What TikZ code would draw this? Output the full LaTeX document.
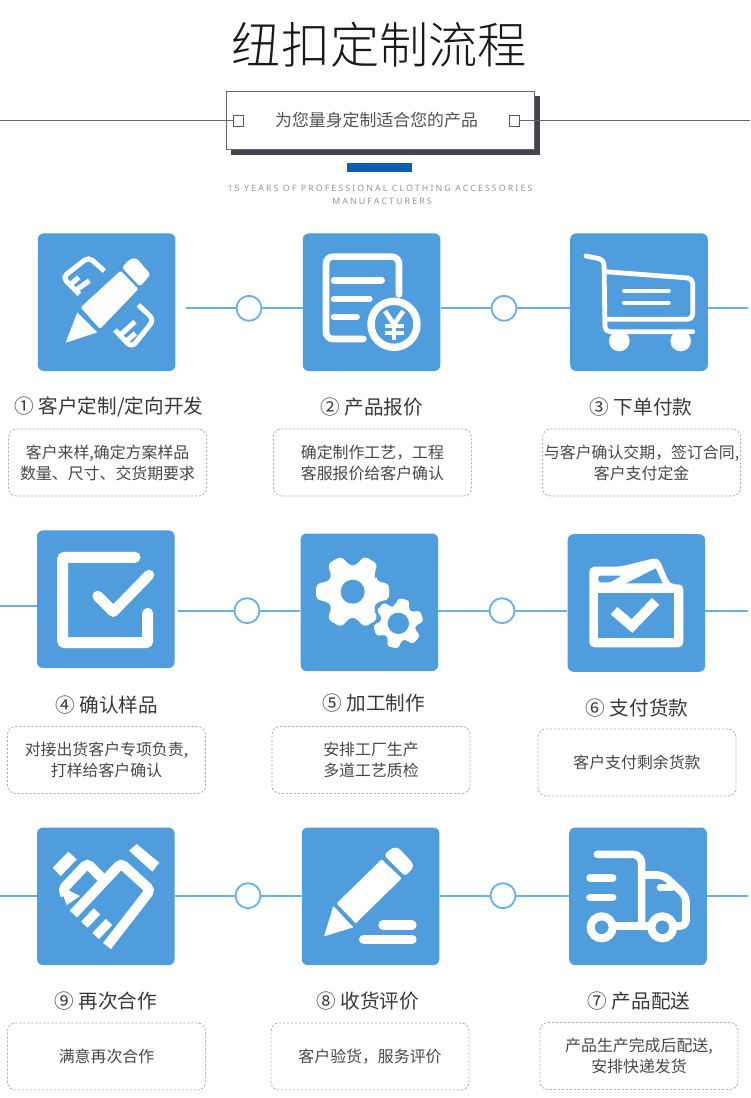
\documentclass[tikz,border=0pt]{standalone}
\usepackage{fontspec}
\setmainfont{Noto Sans CJK SC}
\newfontfamily\titlefont{Noto Sans CJK SC Light}
\newfontfamily\enfont[LetterSpace=24]{Noto Sans}
\definecolor{iconblue}{HTML}{4F9DDC}
\definecolor{linkblue}{HTML}{66B1EA}
\definecolor{shadowgrey}{HTML}{41454F}
\definecolor{barblue}{HTML}{0B5FAE}
\definecolor{dashgrey}{HTML}{ABABAB}
\tikzset{
  iconbox/.style={fill=iconblue,rounded corners=6pt,minimum size=137.6pt,inner sep=0pt,anchor=north west},
  hub/.style={circle,draw=linkblue,fill=white,line width=1.8pt,minimum size=25pt,inner sep=0pt},
  link/.style={draw=linkblue,line width=1.8pt},
  heading/.style={font=\fontsize{19.6}{24}\selectfont,text=black!78,inner sep=0pt},
  descbox/.style={draw=dashgrey,dashed,dash pattern=on 2.2pt off 1.8pt,line width=.8pt,rounded corners=8pt,minimum width=198pt,minimum height=67pt,inner sep=0pt,align=center,text=black!72,font=\fontsize{15.9}{21}\selectfont},
  wl/.style={draw=white,line width=#1,line cap=round,line join=round},
  wm/.style={draw=white,line width=#1,line cap=butt,line join=miter},
  smallsq/.style={draw=black!65,fill=white,line width=.8pt,minimum width=10pt,minimum height=11pt,inner sep=0pt},
  rule/.style={draw=black!60,line width=1.2pt}
}
\begin{document}
\begin{tikzpicture}[x=1pt,y=-1pt]
\useasboundingbox (0,0) rectangle (750,1098);
% header
\node[inner sep=0pt,text=black!90,font=\fontsize{49.2}{56}\titlefont] (title) at (379.5,45) {纽扣定制流程};
\coordinate (hl) at (0,120.7);
\coordinate (hr) at (750,120.7);
\node[fill=shadowgrey,minimum width=309.3pt,minimum height=59pt,inner sep=0pt] (hshadow) at (385.3,125.5) {};
\node[draw=black!60,fill=white,line width=.8pt,minimum width=308.4pt,minimum height=58.7pt,inner sep=0pt] (hbox) at (380.6,120.4) {};
\node[inner sep=0pt,text=black!68,font=\fontsize{16.9}{20}\selectfont] (htext) at (376.5,120) {为您量身定制适合您的产品};
\node[smallsq] (sl) at (238,120.7) {};
\node[smallsq] (sr) at (514.2,120.7) {};
\draw[rule] (hl) -- (sl);
\draw[rule] (sr) -- (hr);
\node[fill=barblue,minimum width=65.6pt,minimum height=8.6pt,inner sep=0pt] (bar) at (379.6,167.3) {};
\node[inner sep=0pt,text=black!42,font=\fontsize{8.8}{10}\enfont] (en1) at (380,188) {15 YEARS OF PROFESSIONAL CLOTHING ACCESSORIES};
\node[inner sep=0pt,text=black!42,font=\fontsize{8.8}{10}\enfont] (en2) at (382,201) {MANUFACTURERS};
% icon tiles
\node[iconbox] (i1) at (37.6,233.2) {};
\node[iconbox] (i2) at (302.6,233.2) {};
\node[iconbox] (i3) at (570,233.2) {};
\node[iconbox] (i4) at (36.8,530.2) {};
\node[iconbox] (i5) at (300.4,533.3) {};
\node[iconbox] (i6) at (567.4,534) {};
\node[iconbox] (i9) at (36.8,827.3) {};
\node[iconbox] (i8) at (301.6,827.3) {};
\node[iconbox] (i7) at (569,827.3) {};
% hubs
\node[hub] (c1) at (249,308.3) {};
\node[hub] (c2) at (504,308.3) {};
\node[hub] (c3) at (247,610.7) {};
\node[hub] (c4) at (502,610.7) {};
\node[hub] (c5) at (248,895.7) {};
\node[hub] (c6) at (503,895.7) {};
\coordinate (s1) at (186,308.3);
\coordinate (e1) at (748,308.3);
\coordinate (s2) at (0,605.7);
\coordinate (s2b) at (178,610.7);
\coordinate (e2) at (748,610.7);
\coordinate (s3) at (0,895.7);
\coordinate (e3) at (748,895.7);
\draw[link] (s1) -- (c1);
\draw[link] (c1) -- (i2.west |- c1);
\draw[link] (i2.east |- c2) -- (c2);
\draw[link] (c2) -- (i3.west |- c2);
\draw[link] (i3.east |- e1) -- (e1);
\draw[link] (s2) -- (i4.west |- s2);
\draw[link] (s2b) -- (c3);
\draw[link] (c3) -- (i5.west |- c3);
\draw[link] (i5.east |- c4) -- (c4);
\draw[link] (c4) -- (i6.west |- c4);
\draw[link] (i6.east |- e2) -- (e2);
\draw[link] (s3) -- (i9.west |- s3);
\draw[link] (i9.east |- c5) -- (c5);
\draw[link] (c5) -- (i8.west |- c5);
\draw[link] (i8.east |- c6) -- (c6);
\draw[link] (c6) -- (i7.west |- c6);
\draw[link] (i7.east |- e3) -- (e3);
% icon 1: pencil and rulers
\begin{scope}[shift={(20,225)},scale=1/3]
\fill[white,rounded corners=1.5pt] (182,247) -- (302,137) -- (355,192) -- (240,312) -- cycle;
\fill[white,rounded corners=3pt] (305,127) -- (333,100) -- (350,100) -- (392,148) -- (360,185) -- cycle;
\fill[white,rounded corners=.6pt] (172,262) -- (232,322) -- (137,353) -- cycle;
\draw[wm=5pt,rounded corners=5pt] (253,138) -- (206,96) -- (128,157) -- (178,208);
\draw[wm=5pt] (150,180) -- (176,157);
\draw[wm=5pt] (166,197) -- (208,167);
\draw[wm=5pt,rounded corners=6pt] (355,240) -- (402,284) -- (335,368) -- (285,315);
\draw[wm=5pt] (300,331) -- (345,290);
\draw[wm=5pt] (318,349) -- (346,325);
\end{scope}
% icon 2: price sheet
\begin{scope}[shift={(290,225)},scale=1/3]
\draw[wl=6.6pt,rounded corners=7pt] (220,342) -- (108,342) -- (108,95) -- (327,95) -- (327,208);
\draw[wl=6.6pt] (132,166) -- (275,166);
\draw[wl=6.6pt] (132,222) -- (238,222);
\draw[wl=6.6pt] (132,276) -- (200,276);
\draw[fill=iconblue,draw=white,line width=7.4pt] (312,298) circle (69);
\draw[wm=4.6pt] (285,258) -- (312,298) -- (340,258);
\draw[wm=4.6pt] (312,298) -- (312,344);
\draw[wm=4pt] (284,303) -- (341,303);
\draw[wm=4pt] (284,324) -- (341,324);
\end{scope}
% icon 3: cart
\begin{scope}[shift={(560,225)},scale=1/3]
\draw[wl=4.8pt,rounded corners=5pt] (78,93) -- (132,104) -- (135,320) -- (398,320);
\draw[wl=4.8pt,rounded corners=5pt] (135,140) -- (398,160) -- (398,283) -- (140,283);
\draw[wl=4.8pt] (193,198) -- (325,198);
\draw[wl=4.8pt] (193,234) -- (325,234);
\fill[white] (178,348) circle (31);
\fill[white] (362,348) circle (31);
\end{scope}
% icon 4: confirm sample
\begin{scope}[shift={(25,525)},scale=1/3]
\draw[wl=11pt,rounded corners=1pt] (330,97) -- (113,97) -- (113,353) -- (368,353) -- (368,265);
\draw[wl=10.5pt] (218,213) -- (265,260) -- (372,150);
\end{scope}
% icon 5: gears
\begin{scope}[shift={(290,525)},scale=1/3]
\begin{scope}[shift={(188,200)}]
\fill[white,rounded corners=4pt] (-24:78) foreach \a in {0,60,...,300}{ -- (\a-24:78) -- (\a-12:112) -- (\a+12:112) -- (\a+24:78)} -- cycle;
\fill[iconblue] (0,0) circle (36);
\end{scope}
\begin{scope}[shift={(325,295)}]
\draw[iconblue,fill=iconblue,line width=4pt,line join=round] (-101:52) foreach \a in {-77,-17,...,223}{ -- (\a-24:52) -- (\a-13:76) -- (\a+13:76) -- (\a+24:52)} -- cycle;
\fill[white,rounded corners=3pt] (-101:52) foreach \a in {-77,-17,...,223}{ -- (\a-24:52) -- (\a-13:76) -- (\a+13:76) -- (\a+24:52)} -- cycle;
\fill[iconblue] (0,0) circle (32);
\end{scope}
\end{scope}
% icon 6: payment
\begin{scope}[shift={(555,525)},scale=1/3]
\fill[white,rounded corners=5pt] (103,125) -- (195,125) -- (310,97) -- (345,178) -- (385,178) -- (385,367) -- (103,367) -- cycle;
\fill[iconblue] (130,203) rectangle (358,340);
\fill[iconblue,rounded corners=2.5pt] (130,152) -- (200,152) -- (165,172) -- (130,172) -- cycle;
\fill[iconblue] (213,175) -- (302,130) -- (323,175) -- cycle;
\draw[wm=10pt] (177,257) -- (231,303) -- (302,229);
\end{scope}
% icon 9: handshake
\begin{scope}[shift={(25,820)},scale=1/3]
\fill[white] (83,143) -- (130,95) -- (155,118) -- (107,168) -- cycle;
\fill[white] (312,92) -- (335,72) -- (403,128) -- (382,155) -- cycle;
\draw[wm=10pt,rounded corners=4pt] (145,282) -- (288,130) -- (376,210) -- (246,378);
\draw[wm=10pt,rounded corners=4pt] (122,225) -- (113,208) -- (187,130) -- (234,178);
\fill[white] (108,208) -- (135,213) -- (165,228) -- (125,255) -- cycle;
\draw[wm=9pt] (178,314) -- (216,274);
\draw[wm=9pt] (212,348) -- (252,306);
\end{scope}
% icon 8: pen
\begin{scope}[shift={(290,820)},scale=1/3]
\fill[white,rounded corners=.8pt] (140,250) -- (275,118) -- (335,175) -- (197,310) -- cycle;
\fill[white,rounded corners=3pt] (282,105) -- (307,83) -- (325,83) -- (369,130) -- (369,145) -- (345,168) -- cycle;
\fill[white,rounded corners=.5pt] (130,258) -- (190,322) -- (102,349) -- cycle;
\draw[wl=9.3pt] (279,315) -- (366,315);
\draw[wl=9.3pt] (221,358) -- (366,358);
\end{scope}
% icon 7: truck
\begin{scope}[shift={(560,820)},scale=1/3]
\draw[wl=7.6pt,rounded corners=9pt] (112,103) -- (245,103) -- (245,320);
\draw[wl=7.6pt,rounded corners=6pt] (245,165) -- (310,165) -- (378,228) -- (378,318) -- (345,318);
\draw[wl=7.6pt] (165,318) -- (270,318);
\draw[wl=6.6pt] (300,203) -- (335,203);
\draw[wl=7.6pt] (90,174) -- (158,174);
\draw[wl=7.6pt] (90,232) -- (158,232);
\draw[draw=white,fill=iconblue,line width=8pt] (125,322) circle (33);
\draw[draw=white,fill=iconblue,line width=8pt] (307,322) circle (33);
\end{scope}
% headings
\node[heading] (h1) at (109,407) {① 客户定制/定向开发};
\node[heading] (h2) at (372,407) {② 产品报价};
\node[heading] (h3) at (641,407) {③ 下单付款};
\node[heading] (h4) at (107,705) {④ 确认样品};
\node[heading] (h5) at (374,703) {⑤ 加工制作};
\node[heading] (h6) at (637,708) {⑥ 支付货款};
\node[heading] (h9) at (106,1001) {⑨ 再次合作};
\node[heading] (h8) at (368,1001) {⑧ 收货评价};
\node[heading] (h7) at (639,1001) {⑦ 产品配送};
% descriptions
\node[descbox] (d1) at (107.6,462.5) {客户来样,确定方案样品\\数量、尺寸、交货期要求};
\node[descbox] (d2) at (372.4,462.5) {确定制作工艺，工程\\客服报价给客户确认};
\node[descbox] (d3) at (641.6,462.5) {与客户确认交期，签订合同,\\客户支付定金};
\node[descbox] (d4) at (106.5,760) {对接出货客户专项负责,\\打样给客户确认};
\node[descbox] (d5) at (371,760) {安排工厂生产\\多道工艺质检};
\node[descbox] (d6) at (637,762.5) {客户支付剩余货款};
\node[descbox] (d9) at (106.5,1056.5) {满意再次合作};
\node[descbox] (d8) at (370,1056.5) {客户验货，服务评价};
\node[descbox] (d7) at (639,1056) {产品生产完成后配送,\\安排快递发货};
\end{tikzpicture}
\end{document}
